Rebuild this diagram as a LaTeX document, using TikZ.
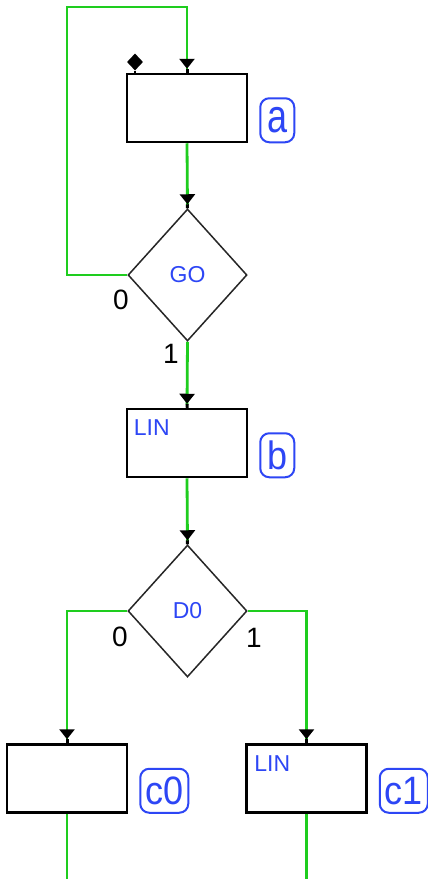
\documentclass[tikz,border=0pt]{standalone}
\usepackage{fontspec}
\setmainfont{Liberation Sans}
\usepackage{graphicx}
\usetikzlibrary{arrows.meta,shapes.geometric}
\definecolor{flow}{RGB}{30,205,30}
\definecolor{lbl}{RGB}{45,70,245}
\tikzset{
  stepbox/.style={draw=black, line width=2.5pt, minimum width=120pt, minimum height=68pt, inner sep=0pt, fill=white},
  test/.style={diamond, draw=black!85, line width=1.5pt, minimum width=119pt, minimum height=132pt, inner sep=0pt, text=lbl, font=\fontsize{23}{23}\selectfont},
  tag/.style={draw=lbl, line width=2pt, rounded corners=9pt, minimum height=44pt, minimum width=34pt, inner xsep=5pt, inner ysep=0pt, text=lbl, font=\fontsize{36}{36}\selectfont},
  lintext/.style={text=lbl, inner sep=0pt, font=\fontsize{23}{23}\selectfont},
  num/.style={font=\fontsize{28}{28}\selectfont, inner sep=0pt},
  flowline/.style={draw=flow, line width=2.8pt},
  into/.style={flowline, -{Triangle[length=10pt,width=15pt,color=black,fill=black]Rectangle[length=4pt,width=3pt,color=black,fill=black]}},
}
\newcommand{\tagtxt}[2][1.1]{\scalebox{1}[#1]{#2}}
\begin{document}
\begin{tikzpicture}[x=1pt,y=-1pt]
\fill[white] (0,0) rectangle (428,879);
\useasboundingbox (0,0) rectangle (428,879);

% steps
\node[stepbox] (a) at (187,108) {};
\node[stepbox, label={[lintext, anchor=north west, xshift=8pt, yshift=-12pt]north west:LIN}] (b) at (187,443) {};
\node[stepbox] (c0) at (67,778.5) {};
\node[stepbox, label={[lintext, anchor=north west, xshift=9pt, yshift=-12pt]north west:LIN}] (c1) at (306.5,778.5) {};

% tests
\node[test] (go) at (187.5,275) {GO};
\node[test] (d0) at (187.5,611) {D0};

% tags
\node[tag, anchor=south west] (ta) at ([xshift=11pt]a.south east) {\tagtxt[1.3]{a}};
\node[tag, anchor=south west] (tb) at ([xshift=11pt]b.south east) {\tagtxt{b}};
\node[tag, anchor=south west] (tc0) at ([xshift=11pt]c0.south east) {\tagtxt{c0}};
\node[tag, anchor=south west] (tc1) at ([xshift=11pt]c1.south east) {\tagtxt{c1}};

% branch numbers
\node[num] (go0) at (121,300) {0};
\node[num] (go1) at (171,354) {1};
\node[num] (d00) at (120,637) {0};
\node[num] (d01) at (254,638) {1};

% initial marker
\node[diamond, fill=black, inner sep=0pt, minimum width=16pt, minimum height=17pt] (init) at (135,62) {};
\draw[line width=2.5pt] (init.south) -- (init.south |- a.north);

% connectors
\coordinate (loopL) at (67,7);
\coordinate (bot) at (0,879);
\draw[into] (go.west) -| (loopL) -| (a.north);
\draw[into] (a.south) -- (go.north);
\draw[into] (go.south) -- (b.north);
\draw[into] (b.south) -- (d0.north);
\draw[into] (d0.west) -| (c0.north);
\draw[into] (d0.east) -| (c1.north);
\draw[flowline] (c0.south) -- (c0.south |- bot);
\draw[flowline] (c1.south) -- (c1.south |- bot);
\end{tikzpicture}
\end{document}
